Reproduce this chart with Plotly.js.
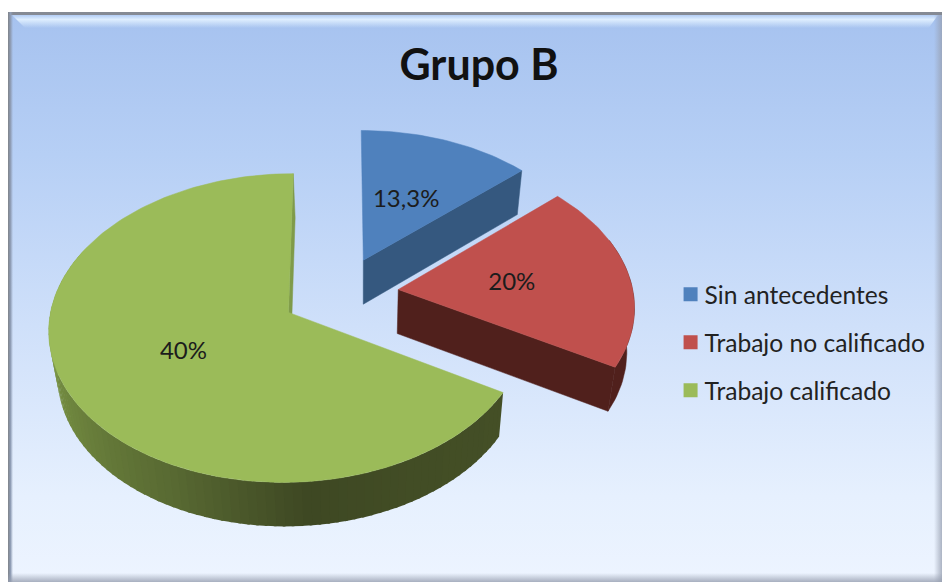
<!DOCTYPE html>
<html><head><meta charset="utf-8">
<script src="https://cdn.plot.ly/plotly-3.0.1.min.js"></script>
<style>
html,body{margin:0;padding:0;background:#fff;width:942px;height:582px;overflow:hidden}
#bg{position:absolute;left:8px;top:12px;width:934px;height:570px;background:linear-gradient(to bottom,#a6c2ef 0%,#b6cff5 25%,#cfe0fa 55%,#e6f0fe 85%,#edf4ff 100%)}
#fT{position:absolute;left:0;top:0;width:934px;height:3px;background:#858a94}
#fL{position:absolute;left:0;top:0;width:5px;height:570px;background:linear-gradient(to right,#7f8389,#8f9db5 50%,rgba(166,194,239,0))}
#bev{position:absolute;left:4px;top:3px;width:926px;height:13px;background:linear-gradient(to bottom,rgba(190,215,250,.5),rgba(225,240,255,.95) 35%,rgba(166,194,239,0));clip-path:polygon(0 0,100% 0,99% 100%,13px 100%)}
#fR{position:absolute;right:0;top:3px;width:8px;height:567px;background:linear-gradient(to right,rgba(180,190,210,0),rgba(150,158,175,.75))}
#fB{position:absolute;left:0;bottom:0;width:934px;height:9px;background:linear-gradient(to bottom,rgba(180,190,210,0),rgba(150,158,175,.8))}
#chart{position:absolute;left:0;top:0;width:942px;height:582px}
</style></head><body>
<div id="bg"><div id="bev"></div><div id="fT"></div><div id="fL"></div><div id="fR"></div><div id="fB"></div></div>
<div id="chart"></div>
<script>
const chartTitle = 'Grupo B';
const categories = ['Sin antecedentes', 'Trabajo no calificado', 'Trabajo calificado'];
const values = [13.3, 20, 66.7];
const dataLabels = ['13,3%', '20%', '40%'];
const topColors = ['#4F81BD', '#C0504D', '#9BBB59'];
const wallColors = ['#35587F', '#50201C', '#7F9B4A'];
const pull = 0.25;

// projection of the tilted disc onto the hidden axes
const PX = {cx: 340, cy: 293.5, a: 235, b: 149, k: 0.1, depth: 44, shrink: 0.972, vx: 0.09};
const LABEL_R = 0.49;
const FONT = 'Lato, "Open Sans", sans-serif';
const rad = d => d * Math.PI / 180;
function proj(X, Y, low) {
  const s = 1 / (1 + PX.k * Y);
  let x = X * s, y = Y * s;
  if (low) { x = PX.vx + (x - PX.vx) * PX.shrink; y -= PX.depth / PX.b; }
  return [x, y];
}
const total = values.reduce((a, b) => a + b, 0);
let acc = 0;
const slices = values.map(v => {
  const start = acc / total * 360; acc += v;
  const end = acc / total * 360, mid = (start + end) / 2;
  return {start, end, mid, ox: pull * Math.sin(rad(mid)), oy: pull * Math.cos(rad(mid))};
});
function rim(sl, ang, low) { return proj(sl.ox + Math.sin(rad(ang)), sl.oy + Math.cos(rad(ang)), low); }
function apex(sl, low) { return proj(sl.ox, sl.oy, low); }
function poly(pts, color, lw) {
  pts = pts.concat([pts[0]]);
  return {type: 'scatter', mode: 'lines', x: pts.map(p => p[0]), y: pts.map(p => p[1]), fill: 'toself',
          fillcolor: color, line: {color: color, width: lw === undefined ? 0.5 : lw}, showlegend: false, hoverinfo: 'skip'};
}
function radialWall(sl, ang, color) {
  return poly([apex(sl), rim(sl, ang), rim(sl, ang, true), apex(sl, true)], color);
}
function arcPts(sl, a0, a1, low) {
  const n = Math.max(2, Math.ceil(Math.abs(a1 - a0) / 1.5)), out = [];
  for (let i = 0; i <= n; i++) out.push(rim(sl, a0 + (a1 - a0) * i / n, low));
  return out;
}
function topFace(sl, color) {
  return poly([apex(sl)].concat(arcPts(sl, sl.start, sl.end)), color);
}
// shading of the green outer wall by angle
const shade = [[120, [68, 79, 38]], [150, [66, 77, 37]], [175, [62, 72, 35]], [205, [88, 105, 50]], [240, [110, 133, 62]], [270, [126, 155, 72]], [292, [126, 155, 72]]];
function shadeAt(a) {
  for (let i = 1; i < shade.length; i++) {
    if (a <= shade[i][0]) {
      const t = (a - shade[i - 1][0]) / (shade[i][0] - shade[i - 1][0]);
      const c = shade[i - 1][1].map((v, j) => Math.round(v + (shade[i][1][j] - v) * t));
      return 'rgb(' + c.join(',') + ')';
    }
  }
  return 'rgb(' + shade[shade.length - 1][1].join(',') + ')';
}
const traces = [];
// blue
traces.push(radialWall(slices[0], slices[0].end, wallColors[0]));
traces.push(topFace(slices[0], topColors[0]));
// red
traces.push(radialWall(slices[1], slices[1].end, wallColors[1]));
traces.push(poly(arcPts(slices[1], 70, slices[1].end).concat(arcPts(slices[1], slices[1].end, 70, true)), wallColors[1]));
traces.push(topFace(slices[1], topColors[1]));
// green
traces.push(radialWall(slices[2], slices[2].end, wallColors[2]));
for (let a = slices[2].start; a < 292; a += 2) {
  traces.push(poly(arcPts(slices[2], a, a + 2.6).concat(arcPts(slices[2], a + 2.6, a, true)), shadeAt(a + 1), 0));
}
traces.push(topFace(slices[2], topColors[2]));
// data labels
const lp = slices.map(sl => proj(sl.ox + LABEL_R * Math.sin(rad(sl.mid)), sl.oy + LABEL_R * Math.cos(rad(sl.mid)) - 0.012));
traces.push({type: 'scatter', mode: 'text', x: lp.map(p => p[0]), y: lp.map(p => p[1]), text: dataLabels,
  textposition: 'middle center', textfont: {family: FONT, size: 24, color: '#1c1c1c'}, showlegend: false, hoverinfo: 'skip'});
// legend
categories.forEach((c, i) => traces.push({type: 'scatter', mode: 'markers', x: [null], y: [null], name: c, legendgroup: c,
  marker: {symbol: 'square', size: 14, color: topColors[i]}, hoverinfo: 'skip'}));

const layout = {
  width: 942, height: 582, margin: {l: 0, r: 0, t: 0, b: 0},
  paper_bgcolor: 'rgba(0,0,0,0)', plot_bgcolor: 'rgba(0,0,0,0)',
  title: {text: '<b>' + chartTitle + '</b>', x: 0.5085, xanchor: 'center', y: 0.888, yanchor: 'middle', font: {family: FONT, size: 43, color: '#111'}},
  xaxis: {visible: false, range: [-PX.cx / PX.a, (942 - PX.cx) / PX.a], fixedrange: true},
  yaxis: {visible: false, range: [(PX.cy - 582) / PX.b, PX.cy / PX.b], fixedrange: true},
  showlegend: true,
  legend: {x: 0.7055, xanchor: 'left', y: 0.412, yanchor: 'middle', bgcolor: 'rgba(0,0,0,0)', traceorder: 'grouped', tracegroupgap: 13,
           font: {family: FONT, size: 24.6, color: '#222'}, itemwidth: 30, itemclick: false}
};
Plotly.newPlot('chart', traces, layout, {staticPlot: true, displayModeBar: false}).then(() => {
  // the legend swatches sit closer to their text in the original
  document.querySelectorAll('.legend .legendpoints').forEach(n => n.setAttribute('transform', 'translate(6,0)'));
});
</script></body></html>
